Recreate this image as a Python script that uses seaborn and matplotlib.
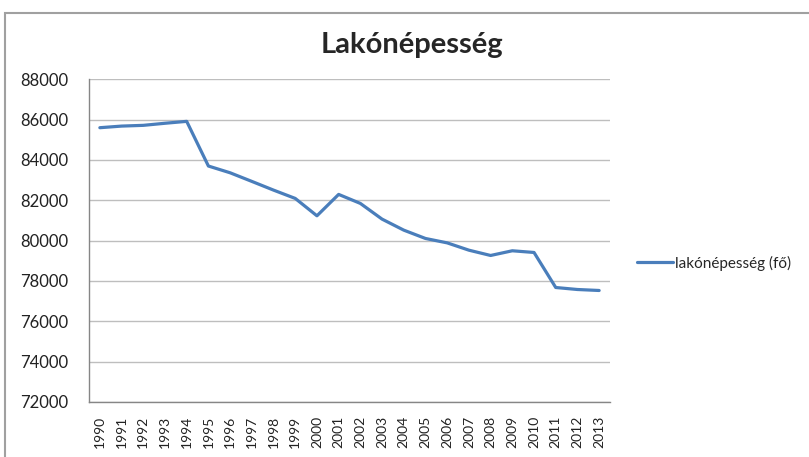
import matplotlib
matplotlib.use("Agg")
import matplotlib.pyplot as plt
import seaborn as sns
import pandas as pd
from matplotlib.patches import Rectangle
from matplotlib.ticker import FixedLocator

years = [str(y) for y in range(1990, 2014)]
population = [85600, 85680, 85717, 85820, 85915, 83700, 83365, 82938, 82506, 82094,
              81232, 82293, 81846, 81067, 80521, 80108, 79890, 79528, 79265, 79498,
              79414, 77677, 77578, 77529]
series_name = "lakónépesség (fő)"
title = "Lakónépesség"
yticks = list(range(72000, 88001, 2000))

df = pd.DataFrame({"year": years, "value": population, "series": series_name})

sns.set_style("white")
plt.rcParams['font.family'] = ['Lato', 'DejaVu Sans']

fig = plt.figure(figsize=(8.09, 4.57), dpi=100)
ax = fig.add_axes([89/809, 1-402/457, (610-89)/809, (402-79.3)/457])

sns.lineplot(data=df, x="year", y="value", hue="series", palette=["#4A7EBB"],
             linewidth=2.3, ax=ax, sort=False)

ax.set_xlim(-0.5, len(years) - 0.5)
ax.set_ylim(72000, 88000)
ax.set_yticks(yticks)
ax.set_yticklabels([str(v) for v in yticks], fontsize=12, color='#222222')
ax.set_xticks(range(len(years)))
ax.set_xticklabels(years, rotation=90, fontsize=10, color='#222222')
ax.xaxis.set_minor_locator(FixedLocator([i - 0.5 for i in range(len(years) + 1)]))
ax.tick_params(axis='x', which='major', length=0, pad=10)
ax.tick_params(axis='x', which='minor', length=5, color='#868686', width=1)
ax.tick_params(axis='y', which='major', length=5, color='#868686', width=1, pad=10)
ax.yaxis.grid(True, color='#BEBEBE', linewidth=1)
ax.set_axisbelow(True)
for s in ['top', 'right']:
    ax.spines[s].set_visible(False)
for s in ['left', 'bottom']:
    ax.spines[s].set_color('#868686')
    ax.spines[s].set_linewidth(1)
ax.set_xlabel("")
ax.set_ylabel("")

ax.legend(loc='center left', bbox_to_anchor=(623/809, 1-263/457),
          bbox_transform=fig.transFigure, frameon=False, fontsize=11,
          handlelength=2.4, handletextpad=0.12, title=None)

fig.text(412/809, 1-45/457, title, ha='center', va='center', fontsize=21,
         fontweight='bold')

fig.patches.append(Rectangle((5/809, -0.1), 1.2, 1 - 13/457 + 0.1,
                             transform=fig.transFigure, fill=False,
                             edgecolor='#A0A0A0', linewidth=1.5))

fig.savefig("out.png", dpi=100)
